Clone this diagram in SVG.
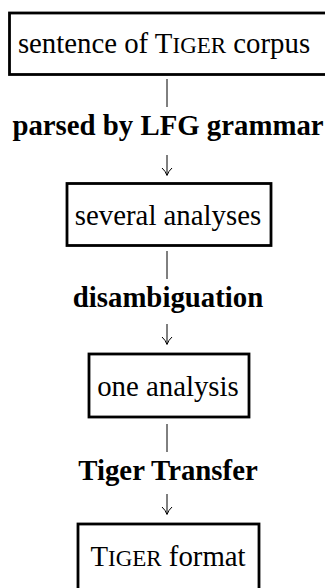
<svg xmlns="http://www.w3.org/2000/svg" width="325" height="588" viewBox="0 0 325 588">
<style>
.box{fill:#fff;stroke:#000;stroke-width:2.8}
.t{font-family:"Liberation Serif","Times New Roman",serif;font-size:28.8px;fill:#000;text-anchor:middle}
.b{font-weight:bold}
.sc{font-size:23px}
.ln{fill:none;stroke:#000;stroke-width:1}
</style>
<rect width="325" height="588" fill="#fff"/>
<g id="connectors">
<path class="ln" d="M167,79V107"/>
<path class="ln" d="M167,155V175M162,168Q165.5,171 167,175.5Q168.5,171 172,168"/>
<path class="ln" d="M167,251V279"/>
<path class="ln" d="M167,324V344M162,337Q165.5,340 167,344.5Q168.5,340 172,337"/>
<path class="ln" d="M167,424V452"/>
<path class="ln" d="M167,494V514M162,507Q165.5,510 167,514.5Q168.5,510 172,507"/>
</g>
<g id="label1"><text class="t b" x="168" y="135">parsed by LFG grammar</text></g>
<g id="label2"><text class="t b" x="168" y="307">disambiguation</text></g>
<g id="label3"><text class="t b" x="168" y="480">Tiger Transfer</text></g>
<g id="node1"><rect class="box" x="9.5" y="13" width="318" height="61.5"/>
<text class="t" x="164" y="53">sentence of T<tspan class="sc">IGER</tspan> corpus</text></g>
<g id="node2"><rect class="box" x="67" y="183.5" width="204" height="62"/>
<text class="t" x="168" y="225">several analyses</text></g>
<g id="node3"><rect class="box" x="89" y="354" width="160" height="63"/>
<text class="t" x="168" y="396">one analysis</text></g>
<g id="node4"><rect class="box" x="78" y="524" width="181" height="70"/>
<text class="t" x="168" y="566">T<tspan class="sc">IGER</tspan> format</text></g>
</svg>
